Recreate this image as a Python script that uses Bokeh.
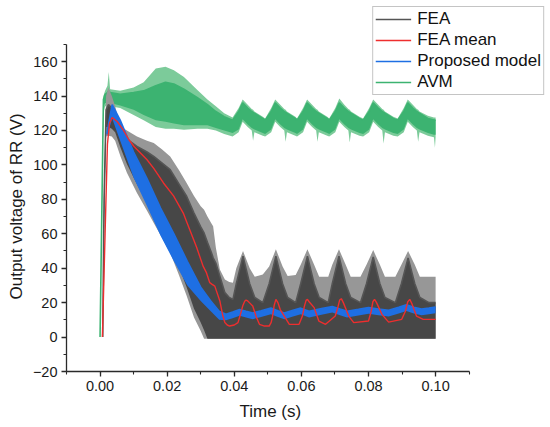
from bokeh.plotting import figure
from bokeh.models import Range1d, SingleIntervalTicker, NumeralTickFormatter, Legend, LegendItem, Title
from bokeh.embed import file_html
from bokeh.resources import INLINE

# ---------------- data ----------------
# AVM (green band): time, outer top, core top, core bottom, outer bottom
avm_t = [0.0000, 0.0010, 0.0015, 0.0022, 0.0026, 0.0030, 0.0060, 0.0100, 0.0130, 0.0166, 0.0195, 0.0220, 0.0250, 0.0290, 0.0320, 0.0345, 0.0370, 0.0395,
         0.0413, 0.0425, 0.0440, 0.0452, 0.0456, 0.0460, 0.0485,
         0.0492, 0.0510, 0.0522, 0.0537, 0.0549, 0.0553, 0.0557, 0.0582,
         0.0587, 0.0605, 0.0617, 0.0632, 0.0644, 0.0648, 0.0652, 0.0677,
         0.0683, 0.0701, 0.0713, 0.0728, 0.0740, 0.0744, 0.0748, 0.0773,
         0.0784, 0.0802, 0.0814, 0.0829, 0.0841, 0.0845, 0.0849, 0.0874,
         0.0887, 0.0905, 0.0917, 0.0932, 0.0944, 0.0948, 0.0952, 0.0977, 0.0995, 0.0998, 0.1000]
avm_hi = [0, 140, 143, 146, 154, 144, 143, 145, 148, 156, 157, 155, 151, 143.5, 138, 134, 130, 127.5,
          133, 138, 135, 132.5, 132, 131, 128,
          127, 133, 138, 135, 132.5, 132, 131, 128,
          127, 133, 138, 135, 132.5, 132, 131, 128,
          127, 133, 138.5, 135, 132.5, 132, 131, 128,
          127, 133, 138, 135, 132.5, 132, 131, 128,
          127, 133, 138, 135, 132.5, 132, 131, 128.5, 127.5, 127.5, 127.5]
avm_core_hi = [0, 138, 141, 142, 143, 142, 141, 142, 143, 146, 148, 147, 144, 139, 135, 131, 128, 126,
               131, 136, 133, 131, 130.5, 130, 127,
               126, 131, 136, 133, 131, 130.5, 130, 127,
               126, 131, 136, 133, 131, 130.5, 130, 127,
               126, 131, 136, 133, 131, 130.5, 130, 127,
               126, 131, 136, 133, 131, 130.5, 130, 127,
               126, 131, 136, 133, 131, 130.5, 130, 127, 126, 126, 126]
avm_core_lo = [0, 134, 136, 136, 136, 136, 134.5, 132, 129, 126, 125, 124, 123, 123, 123, 121.5, 120, 118.5,
               120.5, 126.5, 123.5, 121.5, 121, 120.5, 118.5,
               118, 120.5, 126.5, 123.5, 121.5, 121, 120.5, 118.5,
               118, 120.5, 126.5, 123.5, 121.5, 121, 120.5, 118.5,
               118, 120.5, 126.5, 123.5, 121.5, 121, 120.5, 118.5,
               118, 120.5, 126.5, 123.5, 121.5, 121, 120.5, 118.5,
               118, 120.5, 126.5, 123.5, 121.5, 121, 120.5, 118.5, 117.5, 117.5, 117.5]
avm_lo = [0, 130, 134, 134, 134, 134, 133, 129, 126, 122, 121, 121, 120.4, 121, 121, 120, 118, 116.5,
          119, 125, 122, 120, 114, 119, 117,
          116.5, 119, 125, 122, 120, 113.5, 119, 117,
          116.5, 119, 125, 122, 120, 113.5, 119, 117,
          116.5, 119, 125, 122, 120, 113, 119, 117,
          116.5, 119, 125, 122, 120, 112.5, 119, 117,
          116.5, 119, 125, 122, 120, 113.5, 119, 117, 116, 110, 116]

# FEA (grey band)
fea_t = [0.0008, 0.0012, 0.0018, 0.0025, 0.0035, 0.0045, 0.0061, 0.0080, 0.0110, 0.0140, 0.0160, 0.0185, 0.0209,
         0.0235, 0.0258, 0.0280, 0.0300, 0.0310, 0.0320, 0.0332, 0.0337, 0.0345, 0.0357, 0.0372, 0.0385, 0.0396,
         0.0406, 0.0426, 0.0446, 0.0461, 0.0485,
         0.0504, 0.0524, 0.0544, 0.0559, 0.0583,
         0.0598, 0.0618, 0.0638, 0.0653, 0.0680,
         0.0692, 0.0712, 0.0732, 0.0747, 0.0776,
         0.0794, 0.0814, 0.0834, 0.0849, 0.0880,
         0.0898, 0.0918, 0.0938, 0.0953, 0.0980, 0.1000]
fea_hi = [0, 90, 140, 145, 140, 134, 122.3, 120, 116.5, 114, 112.7, 109, 104.9,
          97, 89.5, 82, 76, 74, 70, 66, 64.4, 52, 39.3, 33.5, 32, 31.6,
          40, 50, 40, 35, 36.4,
          41, 51, 41, 35.4, 36,
          42, 51, 42, 35, 35,
          42, 51, 42, 35, 35,
          42, 50.5, 42, 35, 35,
          42, 50, 42, 35, 35, 35]
fea_core_hi = [0, 80, 132, 135, 133, 128, 118.5, 115, 110.7, 107.5, 104.9, 101, 97.2,
               89, 81.8, 72, 64, 60.5, 55, 49, 46, 43, 35.4, 25.8, 23, 21.9,
               31, 47, 31, 23, 20,
               31, 47, 31, 23, 20,
               31, 47, 31, 23, 20,
               31, 47, 31, 23, 20,
               31, 46.5, 31, 23, 20,
               31, 46, 31, 23, 20, 20]
fea_core_lo = [0, 70, 122, 122, 121, 119, 110, 100.5, 88.7, 78.3, 71.3, 62.6, 54,
               41, 29, 16.4, 8.5, 4, -1, -1, -1, -1, -1, -1, -1, -1,
               -1, -1, -1, -1, -1,
               -1, -1, -1, -1, -1,
               -1, -1, -1, -1, -1,
               -1, -1, -1, -1, -1,
               -1, -1, -1, -1, -1,
               -1, -1, -1, -1, -1, -1]
fea_lo = [0, 60, 117, 117, 116.5, 114, 104.9, 95.5, 83.7, 73.3, 66.3, 57.6, 49,
          36, 24, 11.4, 3.5, -1, -1, -1, -1, -1, -1, -1, -1, -1,
          -1, -1, -1, -1, -1,
          -1, -1, -1, -1, -1,
          -1, -1, -1, -1, -1,
          -1, -1, -1, -1, -1,
          -1, -1, -1, -1, -1,
          -1, -1, -1, -1, -1, -1]

# FEA mean (red line)
mean_t = [0.0007, 0.0015, 0.0022, 0.0028, 0.0036, 0.0051, 0.0070, 0.0086, 0.0100, 0.0140, 0.0160, 0.0189, 0.0219,
          0.0248, 0.0258, 0.0288, 0.0307, 0.0317, 0.0327, 0.0334, 0.0342, 0.0357, 0.0366, 0.0372, 0.0379, 0.0386, 0.0400,
          0.0411, 0.0418, 0.0425, 0.0431, 0.0435, 0.0440, 0.0445, 0.0455, 0.0465, 0.0475, 0.0490, 0.0504,
          0.0510, 0.0514, 0.0519, 0.0524, 0.0530, 0.0537, 0.0549, 0.0564, 0.0593,
          0.0603, 0.0609, 0.0614, 0.0618, 0.0623, 0.0638, 0.0652, 0.0672, 0.0701, 0.0709, 0.0714, 0.0719, 0.0725,
          0.0741, 0.0756, 0.0800, 0.0808, 0.0813, 0.0818, 0.0824, 0.0840, 0.0860, 0.0899, 0.0910, 0.0917, 0.0923,
          0.0929, 0.0943, 0.0963, 0.1000]
mean_v = [0, 60, 112, 124, 127.5, 125.2, 120, 114.6, 111, 103, 98, 89.5, 82,
          72, 67, 52, 41.2, 37.4, 31.6, 30.6, 29.6, 21, 12.2, 8.4, 7, 6.4, 7,
          8.4, 13, 18, 20.8, 21.5, 21, 20, 18, 12, 7.4, 6.4, 6.4,
          8.5, 12, 18.5, 21.9, 20, 16, 12.2, 7.4, 7.4,
          12.2, 18, 21.3, 21.9, 20.5, 17.1, 9.3, 7.4, 12.2, 17.5, 21.5, 22.3, 20,
          12.2, 8.4, 9.3, 15, 20.5, 21.9, 20, 13.2, 8.7, 10.3, 15, 20.5, 21.9,
          19.5, 12.2, 10.3, 10.3]

# Proposed model (blue ripple band)
blue_t = [0.0020, 0.0036, 0.0060, 0.0100, 0.0140, 0.0180, 0.0220, 0.0260, 0.0300, 0.0330, 0.0355, 0.0375, 0.0395,
          0.0416, 0.0435, 0.0455, 0.0480, 0.0509, 0.0530, 0.0549, 0.0575, 0.0598, 0.0623, 0.0660, 0.0692, 0.0715,
          0.0736, 0.0770, 0.0800, 0.0830, 0.0860, 0.0890, 0.0913, 0.0935, 0.0958, 0.0980, 0.1000]
blue_hi = [118, 135, 126, 107.5, 92, 75, 60, 44, 29, 21, 15, 13.3, 14.6,
           16.0, 15.0, 14.0, 15.3, 16.9, 15.3, 14.0, 15.6, 16.8, 15.0, 16.6, 17.8, 16.3,
           15.0, 16.1, 17.1, 16.3, 15.6, 17.3, 18.8, 17.3, 16.3, 16.8, 17.5]
blue_lo = [116, 127, 114, 92.5, 76, 59, 44, 30, 21, 15, 10, 9.7, 11.0,
           12.4, 11.4, 10.4, 11.7, 13.3, 11.7, 10.4, 12.0, 13.2, 11.4, 13.0, 14.2, 12.7,
           11.4, 12.5, 13.5, 12.7, 12.0, 13.7, 15.2, 13.7, 12.7, 13.2, 13.9]

series_names = ["FEA", "FEA mean", "Proposed model", "AVM"]
x_axis_span = (-0.01, 0.11)
y_axis_span = (-20, 170)

# ---------------- figure ----------------
FONT = "Liberation Sans"
W, H = 550, 427
BL, BB = 62, 55                     # left / bottom borders (px)
AXIS_LEN_X, AXIS_LEN_Y = 406, 328   # drawn axis lengths (px)
PX_PER_X = AXIS_LEN_X / (x_axis_span[1] - x_axis_span[0])
PX_PER_Y = AXIS_LEN_Y / (y_axis_span[1] - y_axis_span[0])
x_end = x_axis_span[0] + (W - BL) / PX_PER_X
y_end = y_axis_span[0] + (H - BB) / PX_PER_Y

p = figure(width=W, height=H, output_backend="svg", toolbar_location=None,
           x_range=Range1d(x_axis_span[0], x_end), y_range=Range1d(y_axis_span[0], y_end),
           min_border_left=BL, min_border_right=0, min_border_top=0, min_border_bottom=BB)
p.outline_line_color = None
p.grid.visible = False
p.background_fill_color = "white"

GREEN_L, GREEN = "#7ccb9a", "#3cb371"
GREY_L, GREY = "#979797", "#474747"
RED, BLUE = "#ee2e2e", "#1e6fe3"

p.varea(x=avm_t, y1=avm_lo, y2=avm_hi, fill_color=GREEN_L)
p.varea(x=avm_t, y1=avm_core_lo, y2=avm_core_hi, fill_color=GREEN)
r_avm = p.line(avm_t, avm_core_hi, line_color=GREEN, line_width=1.6)
p.varea(x=fea_t, y1=fea_lo, y2=fea_hi, fill_color=GREY_L)
p.varea(x=fea_t, y1=fea_core_lo, y2=fea_core_hi, fill_color=GREY)
r_fea = p.line(fea_t, fea_core_hi, line_color="#555555", line_width=1.6)
p.varea(x=blue_t, y1=blue_lo, y2=blue_hi, fill_color=BLUE)
r_blue = p.line(blue_t, blue_hi, line_color=BLUE, line_width=1.6)
r_mean = p.line(mean_t, mean_v, line_color=RED, line_width=1.4)

legend = Legend(items=[LegendItem(label=series_names[0], renderers=[r_fea]),
                       LegendItem(label=series_names[1], renderers=[r_mean]),
                       LegendItem(label=series_names[2], renderers=[r_blue]),
                       LegendItem(label=series_names[3], renderers=[r_avm])],
                location="top_right")
legend.border_line_color = "#8a8a8a"
legend.border_line_width = 1
legend.background_fill_color = "white"
legend.background_fill_alpha = 1
legend.label_text_font = FONT
legend.label_text_font_size = "17px"
legend.label_text_color = "#111111"
legend.glyph_width = 36
legend.glyph_height = 20
legend.label_height = 20
legend.spacing = 1
legend.padding = 2
legend.margin = 6
legend.label_standoff = 6
p.add_layout(legend)

p.xaxis.ticker = SingleIntervalTicker(interval=0.02, num_minor_ticks=2)
p.yaxis.ticker = SingleIntervalTicker(interval=20, num_minor_ticks=2)
p.xaxis.formatter = NumeralTickFormatter(format="0.00")
p.xaxis.bounds = x_axis_span
p.yaxis.bounds = y_axis_span

for ax in (p.xaxis, p.yaxis):
    ax.axis_line_color = "#2a2a2a"
    ax.axis_line_width = 1.3
    ax.major_tick_line_color = "#2a2a2a"
    ax.minor_tick_line_color = "#2a2a2a"
    ax.major_tick_line_width = 1.3
    ax.minor_tick_line_width = 1.1
    ax.major_tick_in = 0
    ax.major_tick_out = 5
    ax.minor_tick_in = 0
    ax.minor_tick_out = 3
    ax.major_label_text_font = FONT
    ax.major_label_text_font_size = "14.5px"
    ax.major_label_text_color = "#1a1a1a"
    ax.major_label_standoff = 4

# axis titles placed along the drawn axis spans (the frame is wider than the axes)
XLABEL_LEFT = 173      # px from frame left to start of "Time (s)"
YLABEL_BOTTOM = 72     # px from frame bottom to start of the rotated y label
xt = Title(text="Time (s)", align="left", offset=XLABEL_LEFT,
           text_font=FONT, text_font_size="17px", text_font_style="normal",
           text_color="#1a1a1a", standoff=13)
yt = Title(text="Output voltage of RR (V)", align="left", offset=YLABEL_BOTTOM,
           text_font=FONT, text_font_size="17px", text_font_style="normal",
           text_color="#1a1a1a", standoff=8)
p.add_layout(xt, "below")
p.add_layout(yt, "left")

open("out.html", "w").write(file_html(p, INLINE))
